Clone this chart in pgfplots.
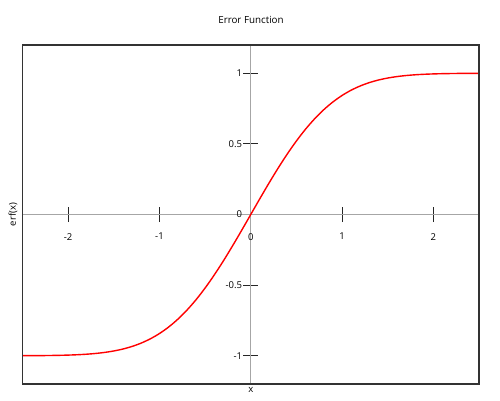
\documentclass[border=0pt]{standalone}
\usepackage{fontspec}
\setmainfont{Open Sans}
\usepackage{pgfplots}
\pgfplotsset{compat=1.18}
\begin{document}
\fontsize{9}{11}\selectfont
\begin{tikzpicture}[x=1pt,y=1pt]
\useasboundingbox (0,0) rectangle (500,400);
\node[font=\fontsize{9.8}{12}\selectfont] at (251,380) {Error Function};
\begin{axis}[
  at={(22.5pt,16pt)}, anchor=south west,
  scale only axis, width=456.5pt, height=339pt,
  xmin=-2.5, xmax=2.5, ymin=-1.2, ymax=1.2,
  axis lines=middle,
  axis line style={draw=black!35, line width=0.8pt, -},
  hide obscured x ticks=false, hide obscured y ticks=false,
  xtick={-2,-1,0,1,2},
  ytick={-1,-0.5,0,0.5,1},
  yticklabels={-1,-0.5,0,0.5,1},
  xticklabels={-2,-1,0,1,2},
  tick align=center,
  major tick length=15pt,
  tick style={draw=black!85, line width=0.8pt},
  xticklabel style={font=\fontsize{9.5}{11}\selectfont, yshift=-8pt},
  yticklabel style={font=\fontsize{9.5}{11}\selectfont, xshift=2pt},
  xlabel={x}, ylabel={erf(x)},
  xlabel style={at={(axis description cs:0.5,0)}, anchor=north, font=\fontsize{9.5}{11}\selectfont, yshift=-0.5pt},
  ylabel style={at={(axis description cs:0,0.5)}, anchor=south, rotate=90, font=\fontsize{9.5}{11}\selectfont, yshift=2pt},
  clip=false,
]
\addplot[red, line width=1.4pt, smooth] coordinates {
(-2.5,-0.9996) (-2.4,-0.9993) (-2.3,-0.9989) (-2.2,-0.9981) (-2.1,-0.9970)
(-2.0,-0.9953) (-1.9,-0.9928) (-1.8,-0.9891) (-1.7,-0.9838) (-1.6,-0.9763)
(-1.5,-0.9661) (-1.4,-0.9523) (-1.3,-0.9340) (-1.2,-0.9103) (-1.1,-0.8802)
(-1.0,-0.8427) (-0.9,-0.7969) (-0.8,-0.7421) (-0.7,-0.6778) (-0.6,-0.6039)
(-0.5,-0.5205) (-0.4,-0.4284) (-0.3,-0.3286) (-0.2,-0.2227) (-0.1,-0.1125)
(0,0)
(0.1,0.1125) (0.2,0.2227) (0.3,0.3286) (0.4,0.4284) (0.5,0.5205)
(0.6,0.6039) (0.7,0.6778) (0.8,0.7421) (0.9,0.7969) (1.0,0.8427)
(1.1,0.8802) (1.2,0.9103) (1.3,0.9340) (1.4,0.9523) (1.5,0.9661)
(1.6,0.9763) (1.7,0.9838) (1.8,0.9891) (1.9,0.9928) (2.0,0.9953)
(2.1,0.9970) (2.2,0.9981) (2.3,0.9989) (2.4,0.9993) (2.5,0.9996)
};
\draw[black!80, line width=1.2pt] (rel axis cs:0,0) rectangle (rel axis cs:1,1);
\end{axis}
\end{tikzpicture}
\end{document}
